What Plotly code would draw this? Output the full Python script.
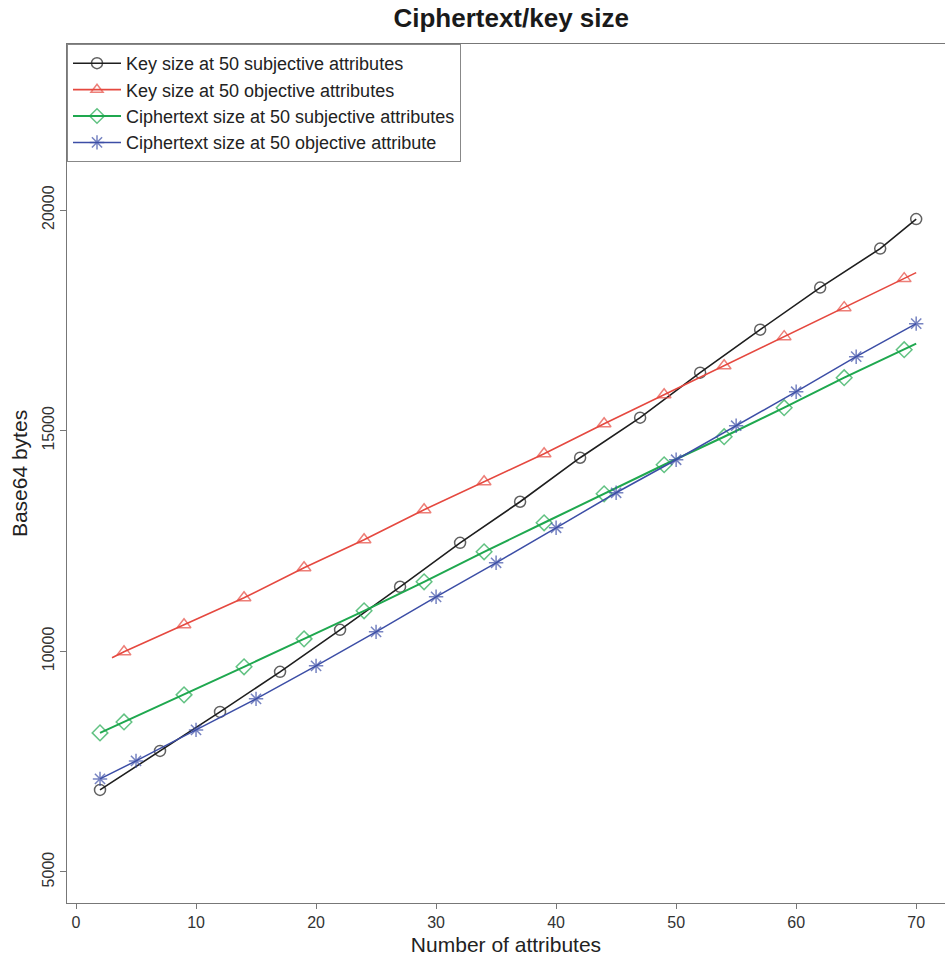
import plotly.graph_objects as go

# Number of attributes and sizes (Base64 bytes) for each series
key_subj_x = [2, 7, 12, 17, 22, 27, 32, 37, 42, 47, 52, 57, 62, 67, 70]
key_subj_y = [6859, 7744, 8628, 9535, 10487, 11463, 12460, 13390, 14388, 15295,
              16315, 17290, 18243, 19127, 19796]

key_obj_x = [3, 4, 9, 14, 19, 24, 29, 34, 39, 44, 49, 54, 59, 64, 69, 70]
key_obj_y = [9853, 9989, 10601, 11213, 11893, 12528, 13209, 13844, 14478, 15159,
             15816, 16474, 17132, 17789, 18447, 18583]

ct_subj_x = [2, 4, 9, 14, 19, 24, 29, 34, 39, 44, 49, 54, 59, 64, 69, 70]
ct_subj_y = [8152, 8401, 9014, 9649, 10283, 10918, 11576, 12256, 12914, 13571,
             14229, 14864, 15522, 16202, 16837, 16973]

ct_obj_x = [2, 5, 10, 15, 20, 25, 30, 35, 40, 45, 50, 55, 60, 65, 70]
ct_obj_y = [7109, 7517, 8220, 8923, 9671, 10442, 11236, 12007, 12800, 13594,
            14342, 15113, 15884, 16678, 17426]

x_ticks = [0, 10, 20, 30, 40, 50, 60, 70]
y_ticks = [5000, 10000, 15000, 20000]
y_tick_labels = ["5000", "10000", "15000", "20000"]

series = [
    ("Key size at 50 subjective attributes", key_subj_x, key_subj_y,
     "#1e1e1e", "circle-open", 1.6, 11, True, True),
    ("Key size at 50 objective attributes", key_obj_x, key_obj_y,
     "#e5483f", "triangle-up-open", 1.6, 12, False, False),
    ("Ciphertext size at 50 subjective attributes", ct_subj_x, ct_subj_y,
     "#1fa84f", "diamond-open", 2.0, 12, True, False),
    ("Ciphertext size at 50 objective attribute", ct_obj_x, ct_obj_y,
     "#3c4ea6", "asterisk-open", 1.5, 12, True, True),
]

fig = go.Figure()
for name, xs, ys, color, symbol, lw, msize, first_marked, last_marked in series:
    n = len(xs)
    sizes = [msize] * n
    if not first_marked:
        sizes[0] = 0
    if not last_marked:
        sizes[-1] = 0
    fig.add_trace(go.Scatter(
        x=xs, y=ys, name=name, mode="lines+markers",
        line=dict(color=color, width=lw),
        marker=dict(symbol=symbol, size=sizes, color=color,
                    line=dict(color=color, width=1.5)),
    ))

fig.update_layout(
    width=945, height=956,
    margin=dict(l=67, r=0, t=44, b=53),
    paper_bgcolor="white", plot_bgcolor="white",
    font=dict(family="Liberation Sans, Arial, sans-serif", color="#222"),
    title=dict(text="<b>Ciphertext/key size</b>", x=0.541, xanchor="center",
               y=0.981, yanchor="middle", font=dict(size=26, color="#1a1a1a")),
    showlegend=True,
    legend=dict(x=0, y=1, xanchor="left", yanchor="top",
                bgcolor="white", bordercolor="#888", borderwidth=1,
                font=dict(size=18, color="#222"),
                tracegroupgap=0, itemwidth=48),
    xaxis=dict(range=[-0.75, 72.4], tickvals=x_ticks, showgrid=False,
               zeroline=False, showline=True, mirror=True, linecolor="#777",
               linewidth=1, ticks="outside", ticklen=5, tickcolor="#777",
               tickfont=dict(size=16, color="#333"),
               title=dict(text="Number of attributes", standoff=8,
                          font=dict(size=21, color="#222"))),
    yaxis=dict(range=[4297, 23764], tickvals=y_ticks, ticktext=y_tick_labels,
               showgrid=False, zeroline=False, showline=True, linecolor="#777",
               linewidth=1, ticks="outside", ticklen=6, tickcolor="#777",
               tickangle=-90, tickfont=dict(size=16, color="#333"),
               title=dict(text="Base64 bytes", standoff=6,
                          font=dict(size=21, color="#222"))),
)

fig.write_html("out.html")
